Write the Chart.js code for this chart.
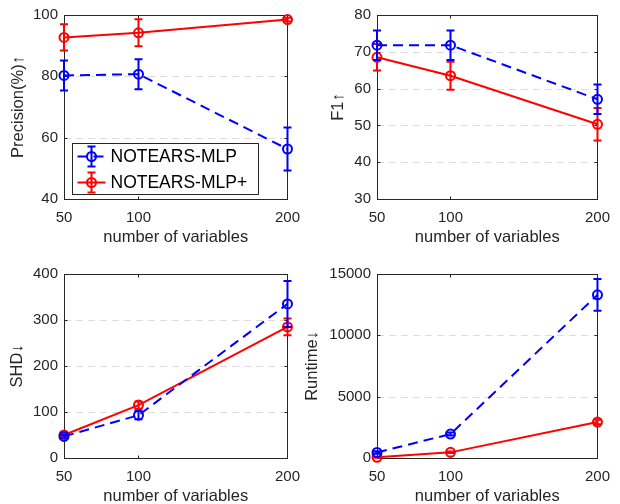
<!DOCTYPE html>
<html>
<head>
<meta charset="utf-8">
<script src="https://cdn.jsdelivr.net/npm/chart.js@4/dist/chart.umd.min.js"></script>
<style>
  html, body { margin: 0; padding: 0; background: #fff; overflow: hidden; }
  #wrap { position: relative; width: 620px; height: 504px; overflow: hidden; }
  canvas { position: absolute; }
</style>
</head>
<body>
<div id="wrap">
  <canvas id="c1" width="310" height="260" style="left:0;top:0"></canvas>
  <canvas id="c2" width="320" height="260" style="left:300px;top:0"></canvas>
  <canvas id="c3" width="310" height="260" style="left:0;top:259px"></canvas>
  <canvas id="c4" width="320" height="260" style="left:300px;top:259px"></canvas>
</div>
<script>
// data
const nVars = [50, 100, 200];
const seriesNames = ['NOTEARS-MLP', 'NOTEARS-MLP+'];

const precMLP = [80.3, 80.7, 56.3];
const precMLPErr = [4.9, 4.9, 7.0];
const precPlus = [92.7, 94.2, 98.5];
const precPlusErr = [4.3, 4.4, 0.6];

const f1MLP = [71.8, 71.8, 57.1];
const f1MLPErr = [4.0, 4.0, 4.0];
const f1Plus = [68.5, 63.5, 50.3];
const f1PlusErr = [3.6, 3.8, 4.4];

const shdMLP = [47, 93, 335];
const shdMLPErr = [3, 9, 50];
const shdPlus = [50, 115, 285];
const shdPlusErr = [3, 8, 18];

const rtMLP = [450, 1950, 13300];
const rtMLPErr = [100, 120, 1300];
const rtPlus = [60, 460, 2930];
const rtPlusErr = [40, 60, 180];

const precTicks = [40, 60, 80, 100];
const f1Ticks = [30, 40, 50, 60, 70, 80];
const shdTicks = [0, 100, 200, 300, 400];
const rtTicks = [0, 5000, 10000, 15000];

const blue = '#0000ff';
const red = '#ff0000';
const axisColor = '#262626';
const fontFamily = '"Liberation Sans", Arial, Helvetica, sans-serif';

// error bars drawn per dataset, right after its line
const errorBars = {
  id: 'errorBars',
  afterDatasetDraw(chart, args) {
    const ds = chart.data.datasets[args.index];
    const { ctx, scales: { x, y } } = chart;
    ctx.save();
    ctx.strokeStyle = ds.borderColor;
    ctx.lineWidth = 2;
    ctx.setLineDash([]);
    ds.data.forEach((p, i) => {
      const px = x.getPixelForValue(p.x);
      const top = y.getPixelForValue(p.y + ds.errors[i]);
      const bot = y.getPixelForValue(p.y - ds.errors[i]);
      ctx.beginPath();
      ctx.moveTo(px, top); ctx.lineTo(px, bot);
      ctx.moveTo(px - 4, top); ctx.lineTo(px + 4, top);
      ctx.moveTo(px - 4, bot); ctx.lineTo(px + 4, bot);
      ctx.stroke();
    });
    ctx.restore();
  }
};

// matlab style box, inward ticks and dashed grid
const axesBox = {
  id: 'axesBox',
  beforeDatasetsDraw(chart) {
    const { ctx, chartArea: a, scales: { x, y } } = chart;
    ctx.save();
    ctx.strokeStyle = '#dcdcdc';
    ctx.lineWidth = 1;
    ctx.setLineDash([7, 5]);
    y.ticks.forEach((t, i) => {
      if (i === 0 || i === y.ticks.length - 1) return;
      const py = Math.round(y.getPixelForValue(t.value)) + 0.5;
      ctx.beginPath();
      ctx.moveTo(a.left, py); ctx.lineTo(a.right, py);
      ctx.stroke();
    });
    ctx.setLineDash([]);
    ctx.strokeStyle = axisColor;
    const L = Math.round(a.left) + 0.5, R = Math.round(a.right) + 0.5;
    const T = Math.round(a.top) + 0.5, B = Math.round(a.bottom) + 0.5;
    ctx.strokeRect(L, T, R - L, B - T);
    ctx.beginPath();
    x.ticks.forEach((t) => {
      const px = Math.round(x.getPixelForValue(t.value)) + 0.5;
      ctx.moveTo(px, B); ctx.lineTo(px, B - 3);
      ctx.moveTo(px, T); ctx.lineTo(px, T + 3);
    });
    y.ticks.forEach((t) => {
      const py = Math.round(y.getPixelForValue(t.value)) + 0.5;
      ctx.moveTo(L, py); ctx.lineTo(L + 3, py);
      ctx.moveTo(R, py); ctx.lineTo(R - 3, py);
    });
    ctx.stroke();
    ctx.restore();
  }
};

// legend inside the first panel
const legendBox = {
  id: 'legendBox',
  afterDraw(chart) {
    const { ctx, chartArea: a } = chart;
    const lx = a.left + 8.5, ly = a.top + 128.5, w = 186, h = 51;
    ctx.save();
    ctx.fillStyle = '#fff';
    ctx.fillRect(lx, ly, w, h);
    ctx.strokeStyle = axisColor;
    ctx.lineWidth = 1;
    ctx.strokeRect(lx, ly, w, h);
    chart.data.datasets.forEach((ds, i) => {
      const cy = ly + 13 + i * 26;
      ctx.strokeStyle = ds.borderColor;
      ctx.lineWidth = 2;
      ctx.setLineDash(ds.borderDash || []);
      ctx.beginPath();
      ctx.moveTo(lx + 5, cy); ctx.lineTo(lx + 33, cy);
      ctx.stroke();
      ctx.setLineDash([]);
      const mx = lx + 19;
      ctx.beginPath();
      ctx.moveTo(mx, cy - 10); ctx.lineTo(mx, cy + 10);
      ctx.moveTo(mx - 4, cy - 10); ctx.lineTo(mx + 4, cy - 10);
      ctx.moveTo(mx - 4, cy + 10); ctx.lineTo(mx + 4, cy + 10);
      ctx.stroke();
      ctx.beginPath();
      ctx.arc(mx, cy, 4.5, 0, Math.PI * 2);
      ctx.stroke();
      ctx.fillStyle = '#000';
      ctx.font = '17.5px ' + fontFamily;
      ctx.textBaseline = 'middle';
      ctx.textAlign = 'left';
      ctx.fillText(ds.label, lx + 38, cy + 1);
    });
    ctx.restore();
  }
};

function makeSeries(label, vals, errs, color, dash) {
  return {
    label: label,
    data: nVars.map((v, i) => ({ x: v, y: vals[i] })),
    errors: errs,
    borderColor: color,
    borderWidth: 2,
    borderDash: dash,
    pointStyle: 'circle',
    pointRadius: 4.5,
    pointBorderWidth: 2,
    pointBorderColor: color,
    pointBackgroundColor: 'rgba(0,0,0,0)',
    fill: false,
    tension: 0,
    clip: false
  };
}

function makeChart(id, o) {
  return new Chart(document.getElementById(id), {
    type: 'line',
    data: {
      datasets: [
        makeSeries(seriesNames[0], o.mlp, o.mlpErr, blue, [10, 6]),
        makeSeries(seriesNames[1], o.plus, o.plusErr, red, [])
      ]
    },
    options: {
      responsive: false,
      animation: false,
      events: [],
      layout: { padding: { top: o.top, right: o.right, left: 0, bottom: 0 } },
      plugins: { legend: { display: false }, tooltip: { enabled: false } },
      scales: {
        x: {
          type: 'linear',
          min: 50,
          max: 200,
          afterBuildTicks: (s) => { s.ticks = nVars.map((v) => ({ value: v })); },
          afterFit: (s) => { s.height = 61; },
          grid: { display: false, drawTicks: false },
          border: { display: false },
          ticks: {
            color: axisColor, padding: 10,
            font: { size: 15, family: fontFamily },
            callback: (v) => String(v)
          },
          title: {
            display: true,
            text: 'number of variables',
            color: axisColor,
            padding: { top: 0, bottom: 13 },
            font: { size: 16.5, family: fontFamily }
          }
        },
        y: {
          type: 'linear',
          min: o.ticks[0],
          max: o.ticks[o.ticks.length - 1],
          afterBuildTicks: (s) => { s.ticks = o.ticks.map((v) => ({ value: v })); },
          afterFit: (s) => { s.width = o.left; },
          grid: { display: false, drawTicks: false },
          border: { display: false },
          ticks: {
            color: axisColor, padding: 6,
            font: { size: 15, family: fontFamily },
            callback: (v) => String(v)
          },
          title: {
            display: true,
            text: o.title,
            color: axisColor,
            padding: { top: o.titlePad, bottom: 0 },
            font: { size: 16.5, family: fontFamily }
          }
        }
      }
    },
    plugins: o.legend ? [axesBox, errorBars, legendBox] : [axesBox, errorBars]
  });
}

makeChart('c1', {
  mlp: precMLP, mlpErr: precMLPErr, plus: precPlus, plusErr: precPlusErr,
  ticks: precTicks, title: 'Precision(%)\u2191', top: 13, right: 20, left: 64, titlePad: 9, legend: true
});
makeChart('c2', {
  mlp: f1MLP, mlpErr: f1MLPErr, plus: f1Plus, plusErr: f1PlusErr,
  ticks: f1Ticks, title: 'F1\u2191', top: 13, right: 19, left: 77, titlePad: 29
});
makeChart('c3', {
  mlp: shdMLP, mlpErr: shdMLPErr, plus: shdPlus, plusErr: shdPlusErr,
  ticks: shdTicks, title: 'SHD\u2193', top: 15, right: 20, left: 64, titlePad: 8
});
makeChart('c4', {
  mlp: rtMLP, mlpErr: rtMLPErr, plus: rtPlus, plusErr: rtPlusErr,
  ticks: rtTicks, title: 'Runtime\u2193', top: 15, right: 19, left: 77, titlePad: 3
});
</script>
</body>
</html>
